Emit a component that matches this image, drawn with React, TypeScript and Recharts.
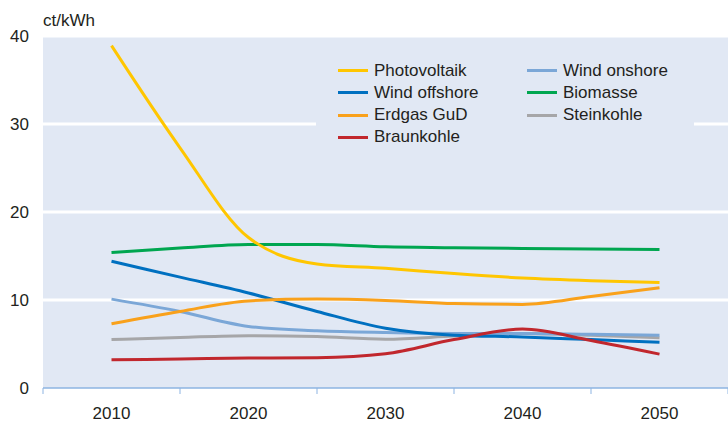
import React from 'react';
import { LineChart, Line, XAxis, YAxis, CartesianGrid, Legend } from 'recharts';

const years = [2010, 2015, 2020, 2025, 2030, 2035, 2040, 2045, 2050];
const photovoltaik = [38.9, 27.3, 17.1, 14.1, 13.6, 13.0, 12.5, 12.2, 12.0];
const windOffshore = [14.4, 12.6, 10.8, 8.7, 6.8, 6.0, 5.8, 5.5, 5.2];
const erdgasGuD = [7.3, 8.7, 9.9, 10.1, 9.95, 9.6, 9.5, 10.4, 11.4];
const braunkohle = [3.2, 3.3, 3.4, 3.45, 3.9, 5.5, 6.7, 5.4, 3.85];
const windOnshore = [10.1, 8.7, 7.0, 6.5, 6.3, 6.2, 6.2, 6.1, 6.0];
const biomasse = [15.4, 15.9, 16.3, 16.3, 16.05, 15.95, 15.85, 15.8, 15.75];
const steinkohle = [5.5, 5.75, 5.95, 5.85, 5.55, 5.9, 6.2, 6.0, 5.7];

const xTicks = [2005, 2010, 2015, 2020, 2025, 2030, 2035, 2040, 2045, 2050, 2055];
const yTicks = [0, 10, 20, 30, 40];
const unitLabel = 'ct/kWh';

const FONT = '"Liberation Sans", Arial, Helvetica, sans-serif';
const TEXT = '#231f20';
const BG = '#e1e8f4';
const AXIS = '#8db4e2';

type Series = { key: string; name: string; color: string; values: number[] };

// legend order (row-wise, two columns)
const legendSeries: Series[] = [
  { key: 'pv', name: 'Photovoltaik', color: '#ffc600', values: photovoltaik },
  { key: 'won', name: 'Wind onshore', color: '#7ba7d7', values: windOnshore },
  { key: 'woff', name: 'Wind offshore', color: '#0070c0', values: windOffshore },
  { key: 'bio', name: 'Biomasse', color: '#00a650', values: biomasse },
  { key: 'gas', name: 'Erdgas GuD', color: '#f9a11b', values: erdgasGuD },
  { key: 'stein', name: 'Steinkohle', color: '#a6a6a8', values: steinkohle },
  { key: 'braun', name: 'Braunkohle', color: '#c1272d', values: braunkohle },
];

// drawing order
const drawOrder = ['stein', 'won', 'woff', 'bio', 'gas', 'pv', 'braun'];

const data = years.map((year, i) => {
  const row: Record<string, number> = { year };
  legendSeries.forEach((s) => {
    row[s.key] = s.values[i];
  });
  return row;
});

const XTick = (props: any) => {
  const { x, y, payload } = props;
  const v = payload.value as number;
  if (v % 10 !== 0) {
    return <line x1={x} x2={x} y1={y} y2={y + 6} stroke={AXIS} strokeWidth={1} />;
  }
  return (
    <text x={x} y={y + 31} textAnchor="middle" fill={TEXT} fontSize={17} fontFamily={FONT}>
      {v}
    </text>
  );
};

const LegendBox = () => (
  <div style={{ position: 'relative', width: '100%', height: '100%', fontFamily: FONT }}>
    {legendSeries.map((s, i) => {
      const col = i % 2;
      const row = Math.floor(i / 2);
      const left = 22 + col * 189;
      const cy = 12.7 + row * 22.2;
      return (
        <div key={s.key}>
          <div
            style={{
              position: 'absolute',
              left,
              top: cy - 1.5,
              width: 30,
              height: 3,
              background: s.color,
            }}
          />
          <div
            style={{
              position: 'absolute',
              left: left + 36,
              top: cy - 10,
              height: 20,
              lineHeight: '20px',
              fontSize: 17,
              color: TEXT,
              whiteSpace: 'nowrap',
            }}
          >
            {s.name}
          </div>
        </div>
      );
    })}
  </div>
);

export default function App() {
  return (
    <div style={{ position: 'absolute', left: 0, top: 0, width: 728, height: 421, fontFamily: FONT }}>
      <LineChart width={728} height={421} data={data} margin={{ top: 36, right: 0, bottom: 0, left: 0 }}>
        <CartesianGrid
          fill={BG}
          vertical={false}
          stroke="#ffffff"
          strokeWidth={3}
          horizontalValues={[10, 20, 30, 40]}
        />
        <XAxis
          dataKey="year"
          type="number"
          domain={[2005, 2055]}
          ticks={xTicks}
          interval={0}
          height={33}
          tickLine={false}
          tickSize={0}
          tickMargin={0}
          axisLine={{ stroke: AXIS, strokeWidth: 1.5 }}
          tick={<XTick />}
        />
        <YAxis
          type="number"
          domain={[0, 40]}
          ticks={yTicks}
          width={43}
          axisLine={false}
          tickLine={false}
          tickSize={0}
          tickMargin={14}
          tick={{ fill: TEXT, fontSize: 17, fontFamily: FONT }}
          label={{
            content: () => (
              <text x={43} y={26} fill={TEXT} fontSize={17} fontFamily={FONT}>
                {unitLabel}
              </text>
            ),
          }}
        />
        <Legend
          layout="vertical"
          align="center"
          verticalAlign="middle"
          wrapperStyle={{ left: 316, top: 58, width: 378, height: 94, background: BG }}
          content={() => <LegendBox />}
        />
        {drawOrder.map((k) => {
          const s = legendSeries.find((x) => x.key === k)!;
          return (
            <Line
              key={s.key}
              dataKey={s.key}
              name={s.name}
              type="monotone"
              stroke={s.color}
              strokeWidth={3}
              dot={false}
              activeDot={false}
              isAnimationActive={false}
            />
          );
        })}
      </LineChart>
    </div>
  );
}
